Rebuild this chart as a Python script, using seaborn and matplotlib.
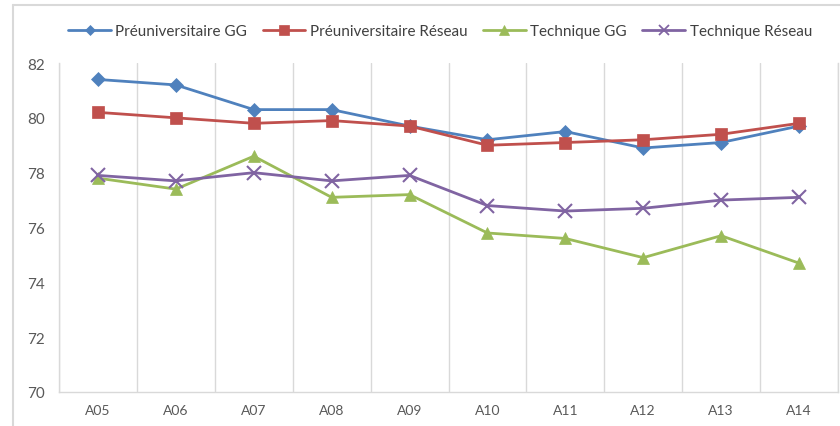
import matplotlib
matplotlib.use("Agg")
import matplotlib.pyplot as plt
import seaborn as sns
import pandas as pd
from matplotlib.lines import Line2D

categories = ["A05", "A06", "A07", "A08", "A09", "A10", "A11", "A12", "A13", "A14"]
preuniv_gg = [81.4, 81.2, 80.3, 80.3, 79.7, 79.2, 79.5, 78.9, 79.1, 79.7]
preuniv_reseau = [80.2, 80.0, 79.8, 79.9, 79.7, 79.0, 79.1, 79.2, 79.4, 79.8]
technique_gg = [77.8, 77.4, 78.6, 77.1, 77.2, 75.8, 75.6, 74.9, 75.7, 74.7]
technique_reseau = [77.9, 77.7, 78.0, 77.7, 77.9, 76.8, 76.6, 76.7, 77.0, 77.1]
series_names = ["Préuniversitaire GG", "Préuniversitaire Réseau", "Technique GG", "Technique Réseau"]
y_ticks = [70, 72, 74, 76, 78, 80, 82]

sns.set_theme(style="white")
plt.rcParams['font.family'] = ['Lato', 'DejaVu Sans']

series_values = [preuniv_gg, preuniv_reseau, technique_gg, technique_reseau]
rows = []
for name, vals in zip(series_names, series_values):
    for i, (c, v) in enumerate(zip(categories, vals)):
        rows.append({"cat": c, "idx": i, "series": name, "value": v})
df = pd.DataFrame(rows)

colors = ["#4F81BD", "#C0504D", "#9BBB59", "#8064A2"]
markers = ["D", "s", "^", "x"]
msizes = [7, 9, 9, 10]

fig = plt.figure(figsize=(8.4, 4.27), dpi=100)
ax = fig.add_axes([59/840, 1-393/427, (838-59)/840, (393-64)/427])

for name, col, mk, ms in zip(series_names, colors, markers, msizes):
    sub = df[df["series"] == name]
    sns.lineplot(data=sub, x="idx", y="value", ax=ax, color=col, linewidth=2.0,
                 marker=mk, markersize=ms, markeredgecolor=col,
                 markeredgewidth=1.5 if mk == "x" else 0.5, label=name, legend=False)

ax.set_xlim(-0.5, len(categories) - 0.5)
ax.set_ylim(70, 82)
ax.set_yticks(y_ticks)
ax.set_yticklabels([str(t) for t in y_ticks])
ax.set_xticks(range(len(categories)))
ax.set_xticklabels(categories)
ax.set_xlabel("")
ax.set_ylabel("")

for b in [i + 0.5 for i in range(-1, len(categories))]:
    ax.axvline(b, color="#D9D9D9", linewidth=1, zorder=0)

ax.spines["top"].set_visible(False)
for s in ["left", "right", "bottom"]:
    ax.spines[s].set_visible(True)
    ax.spines[s].set_color("#D9D9D9")
    ax.spines[s].set_linewidth(1)

ax.tick_params(axis="y", length=0, labelsize=11, labelcolor="#595959", pad=10)
ax.tick_params(axis="x", length=0, labelsize=10, labelcolor="#595959", pad=9)

handles = [Line2D([0], [0], color=c, linewidth=2.0, marker=m,
                  markersize=(5 if m == "D" else 7), markeredgecolor=c,
                  markeredgewidth=1.3 if m == "x" else 0.5)
           for c, m in zip(colors, markers)]
leg = fig.legend(handles, series_names, loc="center", bbox_to_anchor=(440/840, 1-32/427),
                 ncol=4, frameon=False, fontsize=11, handlelength=2.8,
                 columnspacing=1.0, handletextpad=0.3)
for t in leg.get_texts():
    t.set_color("#404040")

# outer chart frame
fig.add_artist(Line2D([12.5/840, 1.0], [1-6/427, 1-6/427], transform=fig.transFigure,
                      color="#D9D9D9", linewidth=1.5))
fig.add_artist(Line2D([12.5/840, 12.5/840], [0, 1-6/427], transform=fig.transFigure,
                      color="#D9D9D9", linewidth=1.5))

fig.savefig("out.png", dpi=100, facecolor="white")
